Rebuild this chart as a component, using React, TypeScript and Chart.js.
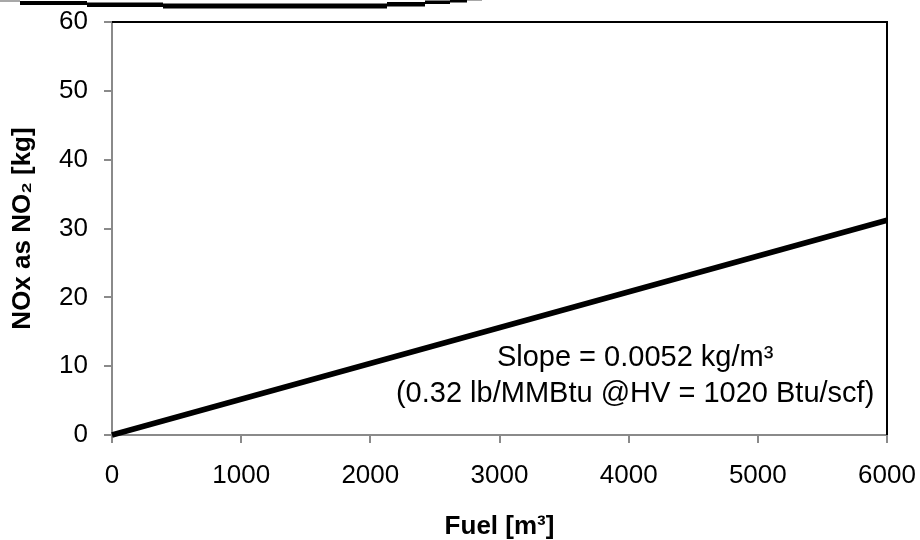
import { useEffect, useRef } from "react";
import { Chart, registerables } from "chart.js";

Chart.register(...registerables);

// ---- data ----
const fuelM3 = [0, 6000];
const noxKg = [0, 31.2];
const xTickValues = [0, 1000, 2000, 3000, 4000, 5000, 6000];
const yTickValues = [0, 10, 20, 30, 40, 50, 60];
const xAxisTitle = "Fuel [m³]";
const yAxisTitle = "NOx as NO₂ [kg]";
const noteLines = ["Slope = 0.0052 kg/m³", "(0.32 lb/MMBtu @HV = 1020 Btu/scf)"];
const noteAnchorX = 4050; // fuel value at which the note is centred
const noteAnchorY = [10, 4.8]; // NOx values of the note baselines

const FONT = "Arial, 'Liberation Sans', Helvetica, sans-serif";
const AXIS_GRAY = "#8a8a8a";

const framePlugin = {
  id: "frame",
  beforeDraw(chart: any) {
    const ctx = chart.ctx;
    ctx.save();
    ctx.fillStyle = "#ffffff";
    ctx.fillRect(0, 0, chart.width, chart.height);
    // cropped decoration strip along the very top edge
    ctx.fillStyle = "#a8a8a8";
    ctx.fillRect(0, 0, 20, 2);
    ctx.fillRect(467, 0, 15, 1);
    ctx.fillStyle = "#000000";
    ctx.fillRect(20, 1, 67, 4);
    ctx.fillRect(87, 2.5, 76, 4.5);
    ctx.fillRect(163, 3.5, 224, 5);
    ctx.fillRect(387, 2, 38, 4.5);
    ctx.fillRect(425, 0.5, 25, 3.5);
    ctx.fillRect(450, 0, 17, 2.5);
    ctx.restore();
  },
  afterDraw(chart: any) {
    const { ctx, chartArea } = chart;
    const { left, top, right, bottom } = chartArea;
    ctx.save();
    ctx.strokeStyle = "#000000";
    ctx.lineWidth = 2;
    ctx.beginPath();
    ctx.moveTo(left, top);
    ctx.lineTo(right, top);
    ctx.lineTo(right, bottom);
    ctx.stroke();

    const xs = chart.scales.x;
    const ys = chart.scales.y;
    ctx.fillStyle = "#000000";
    ctx.font = `29px ${FONT}`;
    ctx.textAlign = "center";
    ctx.textBaseline = "alphabetic";
    noteLines.forEach((line, i) => {
      ctx.fillText(line, xs.getPixelForValue(noteAnchorX), ys.getPixelForValue(noteAnchorY[i]));
    });
    ctx.restore();
  },
};

export default function App() {
  const canvasRef = useRef<HTMLCanvasElement | null>(null);

  useEffect(() => {
    if (!canvasRef.current) return;
    const chart = new Chart(canvasRef.current, {
      type: "scatter",
      data: {
        datasets: [
          {
            data: fuelM3.map((f, i) => ({ x: f, y: noxKg[i] })),
            showLine: true,
            borderColor: "#000000",
            borderWidth: 5.5,
            pointRadius: 0,
            borderCapStyle: "butt",
            clip: false as any,
          },
        ],
      },
      options: {
        responsive: false,
        animation: false,
        events: [],
        layout: { padding: { top: 22, right: 33, left: 0, bottom: 0 } },
        plugins: { legend: { display: false }, tooltip: { enabled: false } },
        scales: {
          x: {
            type: "linear",
            min: 0,
            max: 6000,
            afterBuildTicks: (s: any) => {
              s.ticks = xTickValues.map((v) => ({ value: v }));
            },
            afterFit: (s: any) => {
              s.height = 105;
              s.paddingLeft = 0;
              s.paddingRight = 0;
            },
            grid: {
              drawOnChartArea: false,
              drawTicks: true,
              tickLength: 8,
              color: AXIS_GRAY,
              lineWidth: 2,
            },
            border: { color: AXIS_GRAY, width: 2 },
            ticks: {
              color: "#000000",
              font: { family: FONT, size: 26 },
              padding: 17,
              maxRotation: 0,
              callback: (v: any) => String(v),
            },
            title: {
              display: true,
              text: xAxisTitle,
              color: "#000000",
              font: { family: FONT, size: 26, weight: "bold" },
              padding: { top: 0, bottom: -2 },
            },
          },
          y: {
            type: "linear",
            min: 0,
            max: 60,
            afterBuildTicks: (s: any) => {
              s.ticks = yTickValues.map((v) => ({ value: v }));
            },
            afterFit: (s: any) => {
              s.width = 112;
              s.paddingTop = 0;
              s.paddingBottom = 0;
            },
            grid: {
              drawOnChartArea: false,
              drawTicks: true,
              tickLength: 8,
              color: AXIS_GRAY,
              lineWidth: 2,
            },
            border: { color: AXIS_GRAY, width: 2 },
            ticks: {
              color: "#000000",
              font: { family: FONT, size: 26 },
              padding: 16,
              callback: (v: any) => String(v),
            },
            title: {
              display: true,
              text: yAxisTitle,
              color: "#000000",
              font: { family: FONT, size: 26, weight: "bold" },
              padding: { top: 7, bottom: 0 },
            },
          },
        },
      },
      plugins: [framePlugin],
    });
    return () => chart.destroy();
  }, []);

  return (
    <canvas
      ref={canvasRef}
      width={920}
      height={540}
      style={{ position: "fixed", left: 0, top: 0, display: "block", width: 920, height: 540 }}
    />
  );
}
